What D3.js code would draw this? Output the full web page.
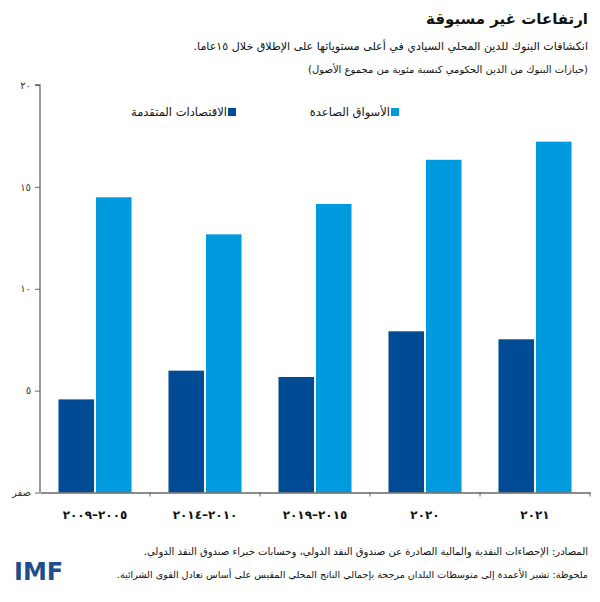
<!DOCTYPE html>
<html>
<head>
<meta charset="utf-8">
<script src="https://cdn.jsdelivr.net/npm/d3@7"></script>
<style>
  body { margin: 0; background: #fff; }
  svg { display: block; }
  text { font-family: "DejaVu Sans", sans-serif; }
</style>
</head>
<body>
<svg id="s" width="600" height="602"></svg>
<script>
const categories = ['٢٠٠٥–٢٠٠٩', '٢٠١٠–٢٠١٤', '٢٠١٥–٢٠١٩', '٢٠٢٠', '٢٠٢١'];
const advanced = [4.57, 5.98, 5.67, 7.91, 7.52];
const emerging = [14.49, 12.67, 14.16, 16.33, 17.22];
const yTicks = [0, 5, 10, 15, 20];
const yTickLabels = ['صفر', '٥', '١٠', '١٥', '٢٠'];
const seriesNames = ['الاقتصادات المتقدمة', 'الأسواق الصاعدة'];
const colors = ['#004b93', '#009ade'];

const svg = d3.select('#s');
const margin = { left: 40, right: 590, top: 85, bottom: 492.5 };

const x = d3.scaleBand()
  .domain(categories)
  .range([margin.left, margin.right])
  .paddingInner(0.336)
  .paddingOuter(0.168);
const xSub = d3.scaleBand()
  .domain([0, 1])
  .range([0, x.bandwidth()])
  .paddingInner(0.05);
const y = d3.scaleLinear().domain([0, 20]).range([margin.bottom, margin.top]);

const rows = categories.map((c, i) => ({ c, v: [advanced[i], emerging[i]] }));

// bars
svg.append('g')
  .selectAll('g')
  .data(rows)
  .join('g')
  .attr('transform', d => `translate(${x(d.c)},0)`)
  .selectAll('rect')
  .data(d => d.v)
  .join('rect')
  .attr('x', (v, i) => xSub(i))
  .attr('width', xSub.bandwidth())
  .attr('y', v => y(v))
  .attr('height', v => y(0) - y(v))
  .attr('fill', (v, i) => colors[i]);

// y axis
const yAxis = svg.append('g')
  .attr('transform', `translate(${margin.left},0)`)
  .call(d3.axisLeft(y).tickValues(yTicks).tickSize(5)
    .tickFormat((d, i) => yTickLabels[i]));
yAxis.select('.domain').attr('stroke', '#666').attr('stroke-width', 1.3).attr('d', `M-5,${y(20)}H0V${y(0)}`);
yAxis.selectAll('.tick line').attr('stroke', '#666');
yAxis.selectAll('.tick text')
  .attr('x', -9)
  .attr('font-size', 10)
  .attr('fill', '#333');

// x axis
const xAxis = svg.append('g')
  .attr('transform', `translate(0,${margin.bottom})`)
  .call(d3.axisBottom(x).tickSize(0).tickPadding(18));
xAxis.select('.domain').attr('stroke', '#666').attr('stroke-width', 1.3);
xAxis.selectAll('.tick text')
  .attr('direction', 'rtl')
  .attr('font-size', 12)
  .attr('font-weight', 'bold')
  .attr('letter-spacing', 3)
  .attr('fill', '#111');
// small ticks between the groups
xAxis.selectAll('.sep')
  .data(categories)
  .join('line')
  .attr('class', 'sep')
  .attr('x1', d => x(d) + x.bandwidth() + (x.step() - x.bandwidth()) / 2)
  .attr('x2', d => x(d) + x.bandwidth() + (x.step() - x.bandwidth()) / 2)
  .attr('y1', 0)
  .attr('y2', 4)
  .attr('stroke', '#666');

// legend
const legend = [
  { name: seriesNames[1], color: colors[1], x: 399 },
  { name: seriesNames[0], color: colors[0], x: 236 },
];
const lg = svg.append('g').selectAll('g').data(legend).join('g')
  .attr('transform', d => `translate(${d.x},112)`);
lg.append('rect').attr('x', -8).attr('y', -4).attr('width', 8).attr('height', 8)
  .attr('fill', d => d.color);
lg.append('text').attr('x', -9).attr('y', 4).attr('text-anchor', 'end')
  .attr('font-size', 11.5).attr('fill', '#111').text(d => d.name);

// titles (rtl: anchor "start" is the right edge); shrink to the reference width
const right = 588;
const rtlText = (yy, size, width, str) => {
  const t = svg.append('text')
    .attr('x', right).attr('y', yy)
    .attr('direction', 'rtl').attr('text-anchor', 'start')
    .attr('font-size', size).attr('fill', '#111')
    .text(str);
  const w = t.node().getComputedTextLength();
  if (w > width) t.attr('font-size', size * width / w);
  return t;
};
rtlText(24, 15, 152, 'ارتفاعات غير مسبوقة').attr('font-weight', 'bold');
rtlText(50, 13, 395, 'انكشافات البنوك للدين المحلي السيادي في أعلى مستوياتها على الإطلاق خلال ١٥عاما.');
rtlText(73, 11.5, 280, '(حيازات البنوك من الدين الحكومي كنسبة مئوية من مجموع الأصول)');

// notes
rtlText(555, 11.5, 445, 'المصادر: الإحصاءات النقدية والمالية الصادرة عن صندوق النقد الدولي، وحسابات خبراء صندوق النقد الدولي.');
rtlText(578, 11.5, 472, 'ملحوظة: تشير الأعمدة إلى متوسطات البلدان مرجحة بإجمالي الناتج المحلي المقيس على أساس تعادل القوى الشرائية.');

// logo
svg.append('text').attr('x', 14).attr('y', 580)
  .attr('font-family', 'Liberation Sans, Arial, sans-serif')
  .attr('font-size', 24).attr('font-weight', 'bold').attr('fill', '#1f4e8c')
  .text('IMF');
</script>
</body>
</html>
